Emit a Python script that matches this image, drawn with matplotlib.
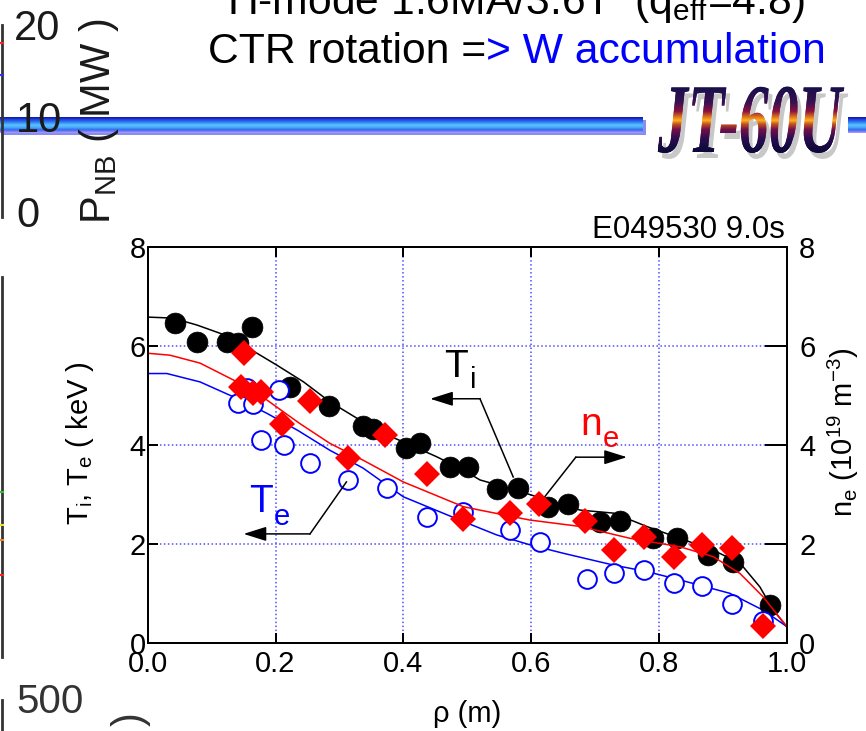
import numpy as np
import matplotlib
matplotlib.use("Agg")
import matplotlib.pyplot as plt
import matplotlib.colors as mcolors
from matplotlib.patheffects import AbstractPathEffect
from matplotlib.transforms import Affine2D, Bbox
from matplotlib.patches import Rectangle

plt.rcParams["font.family"] = ["Liberation Sans", "DejaVu Sans"]
plt.rcParams["mathtext.fontset"] = "custom"
plt.rcParams["mathtext.rm"] = "Liberation Sans"
plt.rcParams["mathtext.it"] = "Liberation Sans:italic"
plt.rcParams["mathtext.bf"] = "Liberation Sans:bold"

# ---------------- profile data (E049530, t = 9.0 s) ----------------
# ion temperature Ti (keV)
rho_ti = [0.042, 0.077, 0.124, 0.142, 0.164, 0.223, 0.283, 0.337, 0.353, 0.405,
          0.426, 0.473, 0.502, 0.546, 0.579, 0.627, 0.658, 0.708, 0.739, 0.791,
          0.828, 0.877, 0.916, 0.974]
ti = [6.48, 6.09, 6.09, 6.06, 6.38, 5.18, 4.79, 4.38, 4.33, 3.94,
      4.04, 3.57, 3.57, 3.11, 3.13, 2.76, 2.81, 2.46, 2.47, 2.12,
      2.12, 1.78, 1.65, 0.77]

# electron temperature Te (keV)
rho_te = [0.142, 0.155, 0.165, 0.178, 0.206, 0.213, 0.254, 0.314, 0.374, 0.437,
          0.494, 0.567, 0.614, 0.687, 0.729, 0.776, 0.823, 0.867, 0.914, 0.963]
te = [4.85, 5.15, 4.83, 4.11, 5.12, 4.01, 3.64, 3.30, 3.13, 2.56,
      2.66, 2.29, 2.05, 1.29, 1.43, 1.48, 1.21, 1.16, 0.79, 0.46]

# electron density ne (1e19 m^-3)
rho_ne = [0.146, 0.150, 0.165, 0.177, 0.210, 0.254, 0.313, 0.371, 0.437, 0.494,
          0.567, 0.613, 0.684, 0.729, 0.776, 0.823, 0.867, 0.914, 0.963]
ne = [5.18, 5.86, 5.05, 5.08, 4.44, 4.90, 3.74, 4.21, 3.42, 2.52,
      2.63, 2.81, 2.47, 1.88, 2.14, 1.74, 1.99, 1.92, 0.34]

# fitted profiles
rho_ti_fit = [0.0, 0.039, 0.077, 0.129, 0.171, 0.202, 0.244, 0.285, 0.327, 0.369,
              0.405, 0.452, 0.494, 0.520, 0.572, 0.624, 0.677, 0.729, 0.781, 0.833,
              0.885, 0.927, 0.958, 0.979, 1.0]
ti_fit = [6.59, 6.57, 6.43, 6.19, 5.86, 5.62, 5.28, 4.88, 4.55, 4.24,
          4.04, 3.77, 3.50, 3.30, 3.11, 2.90, 2.69, 2.63, 2.36, 2.12,
          1.88, 1.62, 1.14, 0.67, 0.34]

rho_ne_fit = [0.0, 0.035, 0.082, 0.134, 0.186, 0.238, 0.285, 0.337, 0.400, 0.494,
              0.520, 0.598, 0.677, 0.755, 0.833, 0.885, 0.927, 0.963, 1.0]
ne_fit = [5.86, 5.82, 5.66, 5.32, 4.92, 4.44, 4.04, 3.70, 3.26, 2.76,
          2.69, 2.49, 2.36, 2.12, 1.95, 1.75, 1.41, 0.94, 0.34]

rho_te_fit = [0.0, 0.030, 0.082, 0.134, 0.186, 0.235, 0.285, 0.337, 0.400, 0.494,
              0.546, 0.598, 0.650, 0.729, 0.781, 0.833, 0.911, 0.963, 1.0]
te_fit = [5.45, 5.45, 5.28, 4.98, 4.65, 4.30, 3.90, 3.54, 2.96, 2.46,
          2.19, 1.99, 1.82, 1.58, 1.45, 1.28, 1.01, 0.67, 0.34]

x_ticks = [0.0, 0.2, 0.4, 0.6, 0.8, 1.0]
y_ticks = [0, 2, 4, 6, 8]

title_1 = "H-mode 1.6MA/3.6T  (q$_{\\mathregular{eff}}$=4.8)"
title_2a = "CTR rotation ="
title_2b = "> W accumulation"
shot_label = "E049530 9.0s"


# --------------- helpers ---------------
class StretchGradient(AbstractPathEffect):
    """Fill text glyphs with a vertical colour gradient, stretched vertically."""

    def __init__(self, sy, colors, offset=(0, 0)):
        super().__init__(offset)
        self.sy = sy
        self.colors = [mcolors.to_rgba(c) for c in colors]

    def draw_path(self, renderer, gc, tpath, affine, rgbFace=None):
        aff = Affine2D().scale(1.0, self.sy) + affine + self._offset_transform(renderer)
        ext = tpath.get_extents(aff)
        n = len(self.colors)
        h = ext.y1 - ext.y0
        for i, c in enumerate(self.colors):
            y_hi = ext.y1 - h * i / n
            y_lo = ext.y1 - h * (i + 1) / n
            gc0 = renderer.new_gc()
            gc0.copy_properties(gc)
            gc0.set_clip_rectangle(Bbox([[ext.x0 - 4, y_lo - 0.6], [ext.x1 + 4, y_hi + 0.6]]))
            renderer.draw_path(gc0, tpath, aff, c)
            gc0.restore()


def gradient(stops, n):
    pos = [s[0] for s in stops]
    rgb = np.array([mcolors.to_rgb(s[1]) for s in stops])
    t = np.linspace(0, 1, n)
    return np.stack([np.interp(t, pos, rgb[:, k]) for k in range(3)], axis=1)


W, H = 866, 731
fig = plt.figure(figsize=(W / 100, H / 100), dpi=100)

# overlay in pixel coordinates for slide decorations
ov = fig.add_axes([0, 0, 1, 1], zorder=0)
ov.set_axis_off()

# ---------------- main profile axes ----------------
ax = fig.add_axes([147.7 / W, 1 - 643.3 / H, 639 / W, 396 / H], zorder=2)
ax2 = ax.twinx()
ax2.set_zorder(3)
ax2.patch.set_visible(False)

ax.set_xlim(0, 1)
ax.set_ylim(0, 8)
ax2.set_ylim(0, 8)
ax.set_xticks(x_ticks)
ax.set_yticks(y_ticks)
ax2.set_yticks(y_ticks)
ax.xaxis.set_major_formatter(plt.FuncFormatter(lambda v, p: f"{v:.1f}"))
ax.yaxis.set_major_formatter(plt.FuncFormatter(lambda v, p: f"{v:.0f}"))
ax2.yaxis.set_major_formatter(plt.FuncFormatter(lambda v, p: f"{v:.0f}"))

ax.set_axisbelow(True)
ax.grid(True, color="#4f4fff", linestyle=(0, (1, 1.6)), linewidth=1.1)

ax.tick_params(axis="x", direction="in", length=7.5, width=1.44, labelsize=21,
               pad=5.0, top=True, bottom=True)
ax.tick_params(axis="y", direction="in", length=7.5, width=1.44, labelsize=21,
               pad=1.5, left=True, right=False)
ax2.tick_params(axis="y", direction="in", length=15.5, width=1.44, labelsize=21,
                pad=9.0)
for a in (ax, ax2):
    for s in a.spines.values():
        s.set_linewidth(1.44)

# fitted curves
ax.plot(rho_ti_fit, ti_fit, color="black", lw=1.1, zorder=2)
ax.plot(rho_te_fit, te_fit, color="#0000ff", lw=1.1, zorder=2)
ax2.plot(rho_ne_fit, ne_fit, color="#ff0000", lw=1.1, zorder=2)

# measurements
ax.plot(rho_ti, ti, "o", ms=15, mfc="black", mec="black", mew=0.5, zorder=3)
ax.plot(rho_te, te, "o", ms=13.5, mfc="white", mec="#0000ff", mew=1.4, zorder=4)
ax2.plot(rho_ne, ne, "D", ms=13.5, mfc="#ff0000", mec="#ff0000", mew=0, zorder=3)

# profile labels with leader arrows
arrow_kw = dict(arrowstyle="-|>,head_length=0.7,head_width=0.22", mutation_scale=20,
                color="black", lw=1.1, shrinkA=0, shrinkB=0)

ax.plot([0.572, 0.520], [3.36, 4.94], color="black", lw=1.1, zorder=5, clip_on=False)
ax.annotate("", xy=(0.442, 4.94), xytext=(0.520, 4.94), arrowprops=arrow_kw, zorder=5)
ax.text(0.4637, 5.38, "T", fontsize=28, color="black", ha="left", va="baseline")
ax.text(0.504, 5.16, "i", fontsize=21, color="black", ha="left", va="baseline")

ax.plot([0.614, 0.670], [2.84, 3.76], color="black", lw=1.1, zorder=5, clip_on=False)
ax.annotate("", xy=(0.750, 3.76), xytext=(0.670, 3.76), arrowprops=arrow_kw, zorder=5)
ax.text(0.6765, 4.21, "n", fontsize=28, color="#ff0000", ha="left", va="baseline")
ax.text(0.7125, 3.97, "e", fontsize=21, color="#ff0000", ha="left", va="baseline")

ax.plot([0.311, 0.254], [3.26, 2.21], color="black", lw=1.1, zorder=5, clip_on=False)
ax.annotate("", xy=(0.150, 2.21), xytext=(0.254, 2.21), arrowprops=arrow_kw, zorder=5)
ax.text(0.1585, 2.65, "T", fontsize=28, color="#0000ff", ha="left", va="baseline")
ax.text(0.1977, 2.39, "e", fontsize=21, color="#0000ff", ha="left", va="baseline")

# axis labels
ov.text(467, 722, "ρ (m)", fontsize=21, ha="center", va="baseline")
ov.text(80, 443, "T$_{\\mathregular{i}}$, T$_{\\mathregular{e}}$ ( keV )", fontsize=21,
        rotation=90, ha="center", va="center")
ov.text(843, 432, "n$_{\\mathregular{e}}$ (10$^{\\mathregular{19}}$ m$^{\\mathregular{-3}}$)",
        fontsize=21, rotation=90, ha="center", va="center")
ov.text(785, 238, shot_label, fontsize=22.5, ha="right", va="baseline")

# ---------------- slide header ----------------
ov.text(516, 14, title_1, fontsize=30.7, ha="center", va="baseline")
t2a = ov.text(208, 63, title_2a, fontsize=30.7, ha="left", va="baseline")
ov.annotate(title_2b, xy=(1, 0), xycoords=t2a, ha="left", va="bottom",
            fontsize=30.7, color="#0000ff")

# decorative gradient rule
bar_stops = [(0.0, "#1414a0"), (0.12, "#1c3cd8"), (0.3, "#2c78f4"), (0.5, "#5ec4ff"),
             (0.66, "#48a8ff"), (0.8, "#2c6cf0"), (0.88, "#7070f0"), (1.0, "#a0a0ff")]
bar_img = gradient(bar_stops, 32)[:, None, :]
ov.add_patch(Rectangle((3, 120), 643, 15, color="#8c8cf0", lw=0, zorder=1))
ov.imshow(bar_img, extent=(0, 643, 133, 117), aspect="auto",
          interpolation="bilinear", zorder=2)
ov.imshow(bar_img, extent=(848, 866, 133, 117), aspect="auto",
          interpolation="bilinear", zorder=2)

# logo
logo_stops = [(0.0, "#14104a"), (0.25, "#3a1050"), (0.38, "#8a1040"), (0.47, "#e07818"),
              (0.52, "#ffb020"), (0.58, "#c05020"), (0.66, "#701048"), (0.8, "#2a0c50"),
              (1.0, "#0c0838")]
logo_cols = [tuple(c) for c in gradient(logo_stops, 66)]
ov.text(662, 158, "JT-60U", fontsize=43, family="Liberation Serif", weight="bold",
        style="italic", ha="left", va="baseline", zorder=3,
        path_effects=[StretchGradient(1.65, ["#c8c8c8"])])
ov.text(658, 152, "JT-60U", fontsize=43, family="Liberation Serif", weight="bold",
        style="italic", ha="left", va="baseline", zorder=4,
        path_effects=[StretchGradient(1.65, logo_cols)])

# neighbouring panels at the left edge
ov.text(14, 40, "20", fontsize=30, color="#1a1a1a", ha="left", va="baseline", zorder=5)
ov.text(16, 132, "10", fontsize=30, color="#1a1a1a", ha="left", va="baseline", zorder=5)
ov.text(16, 227, "0", fontsize=30, color="#1a1a1a", ha="left", va="baseline", zorder=5)
ov.text(99, 121, "P$_{\\mathregular{NB}}$ ( MW )", fontsize=30, color="#1a1a1a",
        rotation=90, ha="center", va="center", zorder=5)
ov.text(16, 713, "500", fontsize=29, color="#333333", ha="left", va="baseline")
ov.text(131, 712, ")", fontsize=30, color="#333333", rotation=90, ha="center", va="top")

ov.plot([1.5, 1.5], [25, 217], color="#333333", lw=2.0)
ov.plot([1.5, 1.5], [277, 657], color="#333333", lw=2.0)
ov.plot([1.5, 1.5], [700, 731], color="#333333", lw=2.0)
for yy, cc in [(43, "#ff2020"), (75, "#3030ff"), (492, "#30c030"), (525, "#f0e020"),
               (540, "#ff8020"), (575, "#ff2020")]:
    ov.plot([0, 3], [yy, yy], color=cc, lw=1.5)

ov.set_xlim(0, W)
ov.set_ylim(H, 0)

fig.savefig("out.png", dpi=100)
